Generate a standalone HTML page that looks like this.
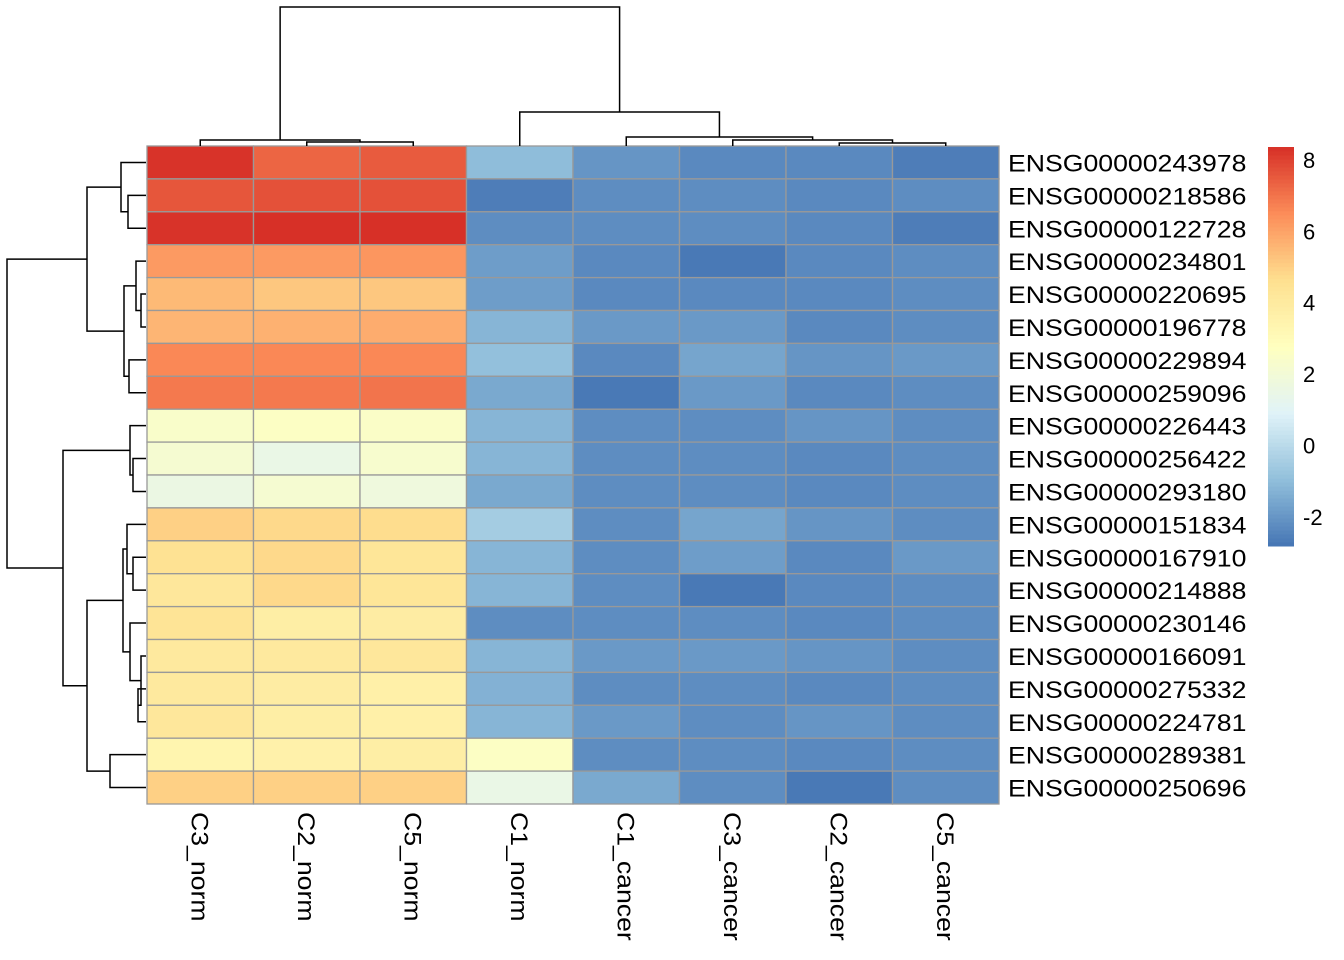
<!DOCTYPE html>
<html><head><meta charset="utf-8"><style>
body{margin:0;background:#fff;}
svg{display:block;font-family:"Liberation Sans",Arial,sans-serif;}
</style></head><body>
<svg id="chart" width="1344" height="960" xmlns="http://www.w3.org/2000/svg"></svg>
<script>
const rowLabels=["ENSG00000243978","ENSG00000218586","ENSG00000122728","ENSG00000234801","ENSG00000220695","ENSG00000196778","ENSG00000229894","ENSG00000259096","ENSG00000226443","ENSG00000256422","ENSG00000293180","ENSG00000151834","ENSG00000167910","ENSG00000214888","ENSG00000230146","ENSG00000166091","ENSG00000275332","ENSG00000224781","ENSG00000289381","ENSG00000250696"];
const colLabels=["C3_norm","C2_norm","C5_norm","C1_norm","C1_cancer","C3_cancer","C2_cancer","C5_cancer"];
const values=[
[8.3,7.3,7.5,-1.0,-2.0,-2.3,-2.3,-2.6],
[7.6,7.7,7.7,-2.6,-2.2,-2.2,-2.3,-2.2],
[8.3,8.4,8.4,-2.2,-2.2,-2.2,-2.3,-2.6],
[6.2,6.2,6.3,-1.8,-2.3,-2.7,-2.3,-2.2],
[5.5,5.2,5.2,-1.8,-2.3,-2.3,-2.3,-2.2],
[5.6,5.7,5.8,-1.2,-1.9,-1.9,-2.3,-2.2],
[6.6,6.6,6.6,-0.9,-2.3,-1.6,-2.0,-1.9],
[6.9,6.9,7.0,-1.5,-2.7,-1.9,-2.3,-2.2],
[2.4,2.6,2.5,-1.2,-2.2,-2.2,-2.0,-2.2],
[2.2,1.5,2.3,-1.2,-2.2,-2.2,-2.3,-2.2],
[1.6,2.2,1.8,-1.5,-2.2,-2.2,-2.3,-2.2],
[5.0,4.8,4.7,-0.5,-2.2,-1.6,-2.0,-2.2],
[4.5,4.8,4.3,-1.2,-2.2,-1.8,-2.3,-1.9],
[4.2,4.8,4.3,-1.2,-2.2,-2.7,-2.3,-2.2],
[4.4,3.8,3.9,-2.2,-2.2,-2.2,-2.3,-2.2],
[4.1,4.1,4.2,-1.2,-1.9,-1.9,-2.0,-2.2],
[4.1,3.9,3.7,-1.3,-2.2,-2.2,-2.3,-2.2],
[4.2,3.8,3.7,-1.2,-1.9,-2.2,-2.0,-2.2],
[3.4,3.6,3.8,2.6,-2.2,-2.2,-2.3,-2.2],
[5.0,5.0,5.0,1.5,-1.5,-2.2,-2.7,-2.2]];
const legendTicks=[-2,0,2,4,6,8];
const colTree=[[0,[1,2,4],6],[3,[4,[5,[6,7,3],6],9],34],139];
const rowTree=[[[0,[1,2,18],25],[[3,[4,5,5],10],[6,7,17],22],59],[[8,[9,10,13],16],[[[11,[12,13,13],19],[14,[15,[16,17,8],5],16],23],[18,19,36],59],83],139];

const svg=document.getElementById('chart');
const NS='http://www.w3.org/2000/svg';
function mk(t,a,p){const e=document.createElementNS(NS,t);for(const k in a)e.setAttribute(k,a[k]);(p||svg).appendChild(e);return e;}
const gx0=147,gx1=999,gy0=146,gy1=804;
const cw=(gx1-gx0)/colLabels.length, rh=(gy1-gy0)/rowLabels.length;
const vmin=-2.81,vmax=8.36;
const pal=["#4575B4","#91BFDB","#E0F3F8","#FFFFBF","#FEE090","#FC8D59","#D73027"];
function hex(h){return [1,3,5].map(i=>parseInt(h.substr(i,2),16));}
function color(v){let t=(v-vmin)/(vmax-vmin);t=Math.max(0,Math.min(1,t))*(pal.length-1);const i=Math.min(pal.length-2,Math.floor(t)),f=t-i;const a=hex(pal[i]),b=hex(pal[i+1]);return 'rgb('+a.map((x,k)=>Math.round(x+(b[k]-x)*f)).join(',')+')';}
const xS=j=>gx0+j*cw, yS=i=>gy0+i*rh;
const g=mk('g',{});


values.forEach((row,i)=>row.forEach((v,j)=>{
  const r=mk('rect',{x:xS(j),y:yS(i),width:cw,height:rh,fill:color(v),stroke:'#999',"stroke-width":1.3},g);
  
  
}));
rowLabels.forEach((l,i)=>{
  const t=mk('text',{x:0,y:0,"font-size":24,fill:'#000',transform:`translate(1008,${yS(i)+rh/2+9}) scale(1.11,1)`});t.textContent=l;
  
  
});
colLabels.forEach((l,j)=>{
  const cx=xS(j)+cw/2;
  const t=mk('text',{x:0,y:0,"font-size":24,fill:'#000',transform:`translate(${cx-9},812) rotate(90) scale(1.11,1)`});t.textContent=l;
  
  
});
function drawTree(node,pos,horiz,base,gp){
  if(typeof node==='number')return {c:pos(node),h:0};
  const a=drawTree(node[0],pos,horiz,base,gp),b=drawTree(node[1],pos,horiz,base,gp),h=node[2];
  let d;
  if(horiz){const X=v=>base-v;d=`M${X(a.h)},${a.c}H${X(h)}V${b.c}H${X(b.h)}`;}
  else{const Y=v=>base-v;d=`M${a.c},${Y(a.h)}V${Y(h)}H${b.c}V${Y(b.h)}`;}
  mk('path',{d,fill:'none',stroke:'#000',"stroke-width":1.5},gp);
  return {c:(a.c+b.c)/2,h};
}
const cg=mk('g',{});


drawTree(colTree,j=>xS(j)+cw/2,false,146,cg);
const rg=mk('g',{});


drawTree(rowTree,i=>yS(i)+rh/2,true,146,rg);
const lg=mk('g',{});


const ly0=147,ly1=546,lx=1268,lw=26;
const ly=v=>ly1-(v-vmin)/(vmax-vmin)*(ly1-ly0);
for(let k=0;k<100;k++){const v0=vmin+(vmax-vmin)*k/100,v1=vmin+(vmax-vmin)*(k+1)/100;mk('rect',{x:lx,y:ly(v1),width:lw,height:ly(v0)-ly(v1)+0.5,fill:color((v0+v1)/2)},lg);}
legendTicks.forEach(v=>{
  const t=mk('text',{x:1303,y:ly(v)+8,"font-size":22,fill:'#000'},lg);t.textContent=v;
  
  
});
</script>
</body></html>
